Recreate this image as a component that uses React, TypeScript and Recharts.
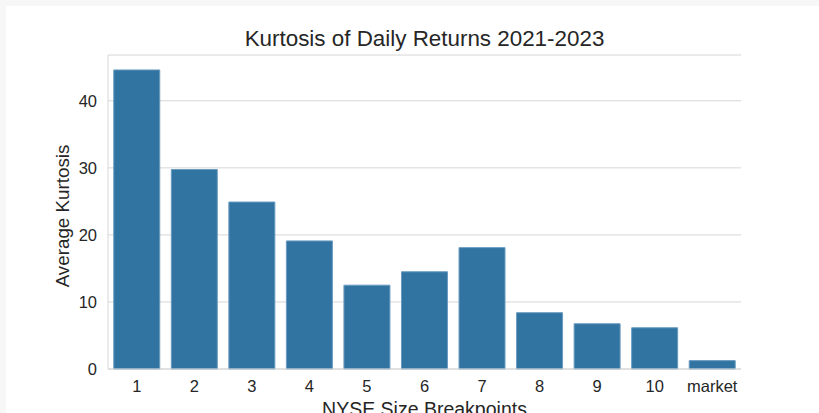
import { BarChart, Bar, XAxis, YAxis, CartesianGrid } from 'recharts'

const breakpoints = ['1', '2', '3', '4', '5', '6', '7', '8', '9', '10', 'market']
const kurtosis = [44.6, 29.75, 24.9, 19.1, 12.5, 14.5, 18.1, 8.4, 6.75, 6.15, 1.25]
const yTicks = [0, 10, 20, 30, 40]

const data = breakpoints.map((b, i) => ({ name: b, value: kurtosis[i] }))

const FONT = '"Liberation Sans", Arial, sans-serif'
const TEXT = '#262626'
const GRID = '#d6d6d6'
const TICK = { fill: TEXT, fontSize: 16.5, fontFamily: FONT }

export default function App() {
  const yMax = Math.max(...kurtosis) * 1.05
  return (
    <div style={{ position: 'relative', width: 819, height: 413, overflow: 'hidden', background: '#fff', fontFamily: FONT }}>
      <style>{'body{margin:0}'}</style>
      <BarChart
        width={819}
        height={413}
        data={data}
        margin={{ top: 55, right: 78, left: 0, bottom: 0 }}
        barCategoryGap="10%"
      >
        <CartesianGrid vertical={false} stroke={GRID} strokeWidth={1} />
        <XAxis
          dataKey="name"
          height={44}
          tick={TICK}
          tickLine={false}
          axisLine={{ stroke: GRID }}
          tickMargin={5}
          interval={0}
        />
        <XAxis xAxisId="top" orientation="top" height={0} tick={false} tickLine={false} axisLine={{ stroke: GRID }} />
        <YAxis
          domain={[0, yMax]}
          ticks={yTicks}
          width={108}
          tick={TICK}
          tickLine={false}
          axisLine={{ stroke: GRID }}
          tickMargin={5}
        />
        <YAxis yAxisId="right" orientation="right" width={0} domain={[0, yMax]} tick={false} tickLine={false} axisLine={{ stroke: GRID }} />
        <Bar dataKey="value" fill="#3274a1" stroke="#6a9bc1" strokeWidth={1} isAnimationActive={false} />
      </BarChart>
      <div style={{ position: 'absolute', left: 0, top: 0, width: 819, height: 6, background: '#f7f7f7' }} />
      <div style={{ position: 'absolute', left: 0, top: 0, width: 6, height: 413, background: '#f7f7f7' }} />
      <div style={{ position: 'absolute', left: 108, width: 633, top: 26, textAlign: 'center', fontSize: 22.4, color: TEXT, whiteSpace: 'nowrap' }}>
        Kurtosis of Daily Returns 2021-2023
      </div>
      <div style={{ position: 'absolute', left: 63, top: 216, fontSize: 18.8, color: TEXT, whiteSpace: 'nowrap', transform: 'translate(-50%, -50%) rotate(-90deg)' }}>
        Average Kurtosis
      </div>
      <div style={{ position: 'absolute', left: 108, width: 633, top: 398, textAlign: 'center', fontSize: 19.5, color: TEXT, whiteSpace: 'nowrap' }}>
        NYSE Size Breakpoints
      </div>
    </div>
  )
}
